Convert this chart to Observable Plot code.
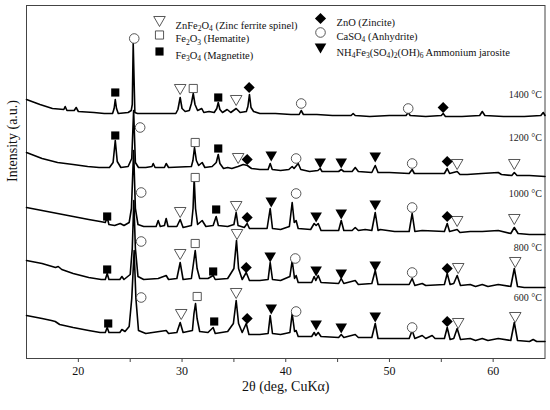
<!DOCTYPE html>
<html>
<head>
<meta charset="utf-8">
<script src="https://cdn.jsdelivr.net/npm/d3@7"></script>
<script src="https://cdn.jsdelivr.net/npm/@observablehq/plot@0.6"></script>
<style>
  html, body { margin: 0; padding: 0; background: #fff; }
  #chart { width: 550px; height: 410px; }
</style>
</head>
<body>
<div id="chart"></div>
<script>
// ---- Data: XRD traces, [2θ (deg), intensity (a.u., stacked offset)] ----
const xrd1400 = [
  [15.0,259],[16.3,254],[17.5,250],[18.6,249],[18.73,252],[18.9,248],[19.6,248],[19.79,251],[20.0,247],
  [21.5,246],[22.5,245],[23.3,245],[23.45,250],[23.56,259],[23.68,250],[23.85,245],[24.8,246],[25.1,248],
  [25.2,254],[25.29,315],[25.45,246],[25.7,245],[27.0,245],[28.0,245],[29.4,245],[29.6,249],[29.82,261],
  [30.0,250],[30.3,247],[30.7,248],[30.9,255],[31.08,265],[31.25,254],[31.5,248],[31.9,250],[32.1,246],
  [32.6,247],[33.1,246],[33.35,250],[33.49,256],[33.65,249],[33.9,246],[34.35,249],[34.7,246],[35.22,250],
  [35.6,246],[36.2,247],[36.35,252],[36.5,264],[36.65,251],[36.9,247],[37.5,245],[39.0,245],[40.5,244],
  [41.3,244],[41.49,248],[41.7,244],[43.0,244],[44.5,243],[46.3,243],[46.5,245],[46.7,243],[48.1,242],
  [50.0,243],[51.6,243],[51.81,246],[52.0,243],[53.5,242],[55.0,243],[55.18,245],[55.4,242],[57.0,242],
  [58.7,243],[58.95,247],[59.2,243],[61.0,242],[63.0,242],[64.6,243],[64.83,246],[65.0,243]
];
const xrd1200 = [
  [15.0,206],[16.5,200],[18.0,196],[19.5,194],[20.9,192],[22.0,191],[23.0,191],[23.35,196],[23.56,218],
  [23.75,197],[24.1,191],[24.8,192],[25.15,200],[25.33,248],[25.5,196],[25.8,191],[26.5,191],[27.1,192],
  [27.22,195],[27.4,191],[28.3,191],[28.47,195],[28.7,191],[30.9,192],[31.05,198],[31.2,211],[31.38,198],
  [31.6,193],[31.94,196],[32.2,191],[32.9,192],[33.3,196],[33.49,204],[33.65,195],[34.0,190],[34.4,191],
  [34.8,190],[35.4,192],[35.9,194],[36.3,193],[36.7,190],[37.5,189],[38.3,189],[38.5,195],[38.7,189],
  [39.5,188],[40.3,189],[40.62,192],[40.8,190],[41.2,195],[41.45,189],[42.3,187],[43.1,188],[43.32,190],
  [43.5,187],[45.1,187],[45.35,189],[45.6,187],[46.4,187],[46.7,191],[47.0,187],[48.3,186],[48.63,193],
  [48.9,186],[50.0,186],[51.9,185],[52.19,189],[52.4,185],[55.3,185],[55.57,190],[55.8,185],[56.53,187],
  [56.8,184],[57.5,184],[58.9,185],[60.49,186],[60.8,184],[61.8,183],[62.04,186],[62.3,183],[63.5,183],[65.0,182]
];
const xrd1000 = [
  [15.0,151],[16.5,148],[18.0,145],[19.5,142],[21.0,139],[22.1,137],[22.6,136],[22.78,141],[22.95,134],
  [23.5,133],[24.04,135],[24.4,133],[24.9,136],[25.12,150],[25.33,208],[25.5,150],[25.75,134],[26.3,132],
  [27.5,132],[27.7,138],[27.9,132],[28.3,133],[28.47,140],[28.65,132],[29.5,132],[29.82,139],[30.1,131],
  [30.9,133],[31.06,150],[31.17,180],[31.3,150],[31.5,134],[31.94,138],[32.3,132],[33.0,133],[33.29,142],
  [33.5,133],[34.4,132],[35.0,134],[35.22,146],[35.4,133],[36.0,131],[36.28,135],[36.5,130],[38.2,130],
  [38.5,150],[38.72,130],[39.5,129],[40.35,132],[40.62,156],[40.82,136],[41.0,138],[41.2,130],[42.4,129],
  [42.74,135],[42.93,133],[43.13,135],[43.4,128],[45.1,128],[45.35,138],[45.6,128],[46.4,128],[46.7,131],
  [47.0,128],[47.66,129],[48.3,128],[48.63,146],[48.9,128],[49.11,129],[50.5,127],[51.9,127],[52.19,145],
  [52.45,127],[53.16,128],[55.3,127],[55.57,135],[55.8,127],[56.53,129],[56.8,126],[57.79,127],[58.95,127],
  [60.49,128],[61.7,125],[62.04,131],[62.4,125],[63.5,124],[65.0,124]
];
const xrd800 = [
  [15.0,98],[16.5,95],[17.8,91],[18.06,92],[18.4,89],[19.5,85],[21.0,81],[22.2,79],[22.6,79],[22.78,85],
  [22.95,79],[24.0,79],[24.2,82],[24.4,79],[25.0,84],[25.2,110],[25.35,158],[25.5,110],[25.75,82],[26.3,79],
  [27.7,80],[28.47,83],[28.7,79],[29.5,80],[29.82,96],[30.1,79],[30.9,80],[31.1,95],[31.27,108],[31.45,90],
  [31.7,80],[32.5,80],[33.0,83],[33.2,79],[34.4,80],[35.0,90],[35.25,118],[35.45,90],[35.8,79],[36.19,86],
  [36.5,78],[37.5,78],[38.3,79],[38.5,96],[38.72,79],[39.5,78],[40.4,82],[40.62,98],[40.85,80],[41.0,83],
  [41.2,76],[42.5,76],[42.74,82],[42.9,78],[43.13,83],[43.4,76],[45.1,75],[45.35,80],[45.6,75],[46.7,78],
  [47.0,74],[48.3,75],[48.63,88],[48.9,74],[50.5,74],[51.9,74],[52.19,80],[52.45,73],[53.16,75],[53.5,73],
  [55.3,74],[55.57,85],[55.85,74],[56.2,75],[56.53,83],[56.85,73],[57.79,74],[58.3,72],[58.95,74],[59.5,72],
  [60.49,74],[61.7,72],[62.04,90],[62.35,72],[63.0,71],[65.0,71]
];
const xrd600 = [
  [15.0,43],[16.5,40],[17.4,38],[17.77,37],[18.2,34],[19.5,31],[21.0,28],[22.1,26],[22.6,26],[22.78,31],
  [22.95,26],[24.0,26],[24.2,29],[24.5,27],[24.9,32],[25.15,60],[25.38,108],[25.55,60],[25.8,28],[26.5,25],
  [28.47,28],[28.7,25],[29.5,26],[29.82,36],[30.1,26],[31.0,28],[31.15,45],[31.3,55],[31.45,40],[31.7,27],
  [32.5,26],[33.0,31],[33.2,25],[34.4,27],[34.95,35],[35.22,58],[35.45,35],[35.8,26],[36.19,35],[36.45,24],
  [37.5,24],[38.3,25],[38.5,43],[38.72,25],[39.5,24],[40.4,26],[40.62,45],[40.85,27],[41.0,28],[41.2,22],
  [42.5,22],[42.74,26],[42.9,23],[43.13,26],[43.4,22],[45.1,21],[45.35,24],[45.6,21],[46.7,24],[47.0,21],
  [48.3,21],[48.63,35],[48.9,20],[50.5,20],[51.9,20],[52.19,28],[52.45,20],[53.16,23],[53.5,20],[54.12,23],
  [54.4,20],[55.3,20],[55.57,31],[55.85,19],[56.2,20],[56.53,30],[56.85,19],[57.79,20],[58.3,18],[58.95,20],
  [59.5,18],[60.49,20],[61.7,18],[62.04,36],[62.35,18],[63.5,17],[63.86,19],[64.2,17],[65.0,17]
];

// ---- Phase markers: [phase, 2θ, intensity] ----
const marks1400 = [
  ["magnetite",23.56,266],["anhydrite",25.39,320],["spinel",29.82,269],["hematite",31.08,270],
  ["magnetite",33.49,261],["spinel",35.22,258],["zincite",36.47,271],["anhydrite",41.49,255],
  ["anhydrite",51.81,250],["zincite",55.18,251]
];
const marks1200 = [
  ["magnetite",23.56,223],["anhydrite",25.96,231],["hematite",31.27,216],["magnetite",33.49,210],
  ["spinel",35.41,200],["zincite",36.28,199],["jarosite",38.6,202],["anhydrite",41.0,200],
  ["jarosite",43.32,195],["jarosite",45.35,195],["jarosite",48.63,201],["anhydrite",52.19,195],
  ["zincite",55.57,197],["spinel",56.53,194],["spinel",62.04,194]
];
const marks1000 = [
  ["magnetite",22.78,142],["anhydrite",26.06,166],["spinel",29.82,146],["hematite",31.27,181],
  ["magnetite",33.29,149],["spinel",35.22,152],["zincite",36.28,141],["jarosite",38.6,156],
  ["anhydrite",41.0,165],["jarosite",42.93,141],["jarosite",45.35,144],["jarosite",48.63,153],
  ["anhydrite",52.19,151],["zincite",55.57,142],["spinel",56.53,137],["spinel",62.04,139]
];
const marks800 = [
  ["magnetite",22.78,89],["anhydrite",26.06,117],["spinel",29.82,104],["hematite",31.27,115],
  ["magnetite",33.0,87],["spinel",35.3,124],["zincite",36.19,91],["jarosite",38.5,101],
  ["anhydrite",40.92,100],["jarosite",42.93,87],["jarosite",45.35,84],["jarosite",48.63,92],
  ["anhydrite",52.19,86],["zincite",55.57,90],["spinel",56.63,90],["spinel",62.13,96]
];
const marks600 = [
  ["magnetite",22.88,35],["anhydrite",26.06,61],["spinel",29.92,44],["hematite",31.46,62],
  ["magnetite",33.1,37],["spinel",35.22,65],["zincite",36.28,40],["jarosite",38.6,49],
  ["anhydrite",41.0,47],["jarosite",42.93,33],["jarosite",45.35,30],["jarosite",48.63,41],
  ["anhydrite",52.19,31],["zincite",55.57,37],["spinel",56.63,35],["spinel",62.13,41]
];

// ---- Labels ----
const temps = ["600 °C", "800 °C", "1000 °C", "1200 °C", "1400 °C"];
const tempLabelY = [61, 111, 165, 221, 264];
const xTicks = [20, 30, 40, 50, 60];
const xMinorTicks = [25, 35, 45, 55];
const xTitle = "2θ (deg, CuKα)";
const yTitle = "Intensity (a.u.)";
const phases = ["spinel", "hematite", "magnetite", "zincite", "anhydrite", "jarosite"];
const phaseLabels = [
  "ZnFe_2O_4 (Zinc ferrite spinel)",
  "Fe_2O_3 (Hematite)",
  "Fe_3O_4 (Magnetite)",
  "ZnO (Zincite)",
  "CaSO_4 (Anhydrite)",
  "NH_4Fe_3(SO_4)_2(OH)_6 Ammonium jarosite"
];

// ---- Build tables ----
const traceList = [xrd600, xrd800, xrd1000, xrd1200, xrd1400];
const lineRows = traceList.flatMap((pts, i) => pts.map(([x, y]) => ({t: temps[i], x, y})));
const markList = [marks600, marks800, marks1000, marks1200, marks1400];
const markRows = markList.flatMap((m, i) => m.map(([p, x, y]) => ({t: temps[i], p, x, y})));
const labelRows = temps.map((t, i) => ({t, y: tempLabelY[i]}));

// ---- Styles ----
const triDown = {
  draw(ctx, size) {
    const s = Math.sqrt(size * 4 / Math.sqrt(3));
    const h = s * Math.sqrt(3) / 2;
    ctx.moveTo(-s / 2, -h / 2);
    ctx.lineTo(s / 2, -h / 2);
    ctx.lineTo(0, h / 2);
    ctx.closePath();
  }
};
const hollow = "#444";
const style = {
  spinel:    {symbol: triDown, r: 4.3, fill: "white", stroke: hollow, strokeWidth: 0.9},
  hematite:  {symbol: "square", r: 4.6, fill: "white", stroke: hollow, strokeWidth: 0.9},
  magnetite: {symbol: "square", r: 4.6, fill: "black", stroke: "none"},
  zincite:   {symbol: "diamond2", r: 5.0, fill: "black", stroke: "none"},
  anhydrite: {symbol: "circle", r: 4.8, fill: "white", stroke: hollow, strokeWidth: 0.9},
  jarosite:  {symbol: triDown, r: 4.3, fill: "black", stroke: "none"}
};
// legend layout offsets from the frame's top-left corner
const legendPos = [[133, 16], [133, 29.5], [133, 46], [294, 13], [294, 27], [294, 43]];
const legendTextDx = 16;

const font = "'Liberation Serif', 'DejaVu Serif', serif";

const marks = [
  Plot.frame({stroke: "#444", strokeWidth: 1}),
  Plot.axisX({ticks: xTicks, tickSize: 4, tickPadding: 4, fontSize: 12, label: null, stroke: "#444"}),
  Plot.axisX({ticks: xMinorTicks, tickSize: 4, tickFormat: () => "", label: null, stroke: "#444"}),
  Plot.line(lineRows, {x: "x", y: "y", z: "t", stroke: "black", strokeWidth: 1.6, strokeLinejoin: "round"}),
  ...phases.map(p => Plot.dot(markRows.filter(d => d.p === p), {x: "x", y: "y", ...style[p]})),
  Plot.text(labelRows, {y: "y", text: "t", frameAnchor: "right", textAnchor: "end", dx: -3, fontSize: 10, fill: "#222"}),
  ...phases.map((p, i) => Plot.dot([0], {frameAnchor: "top-left", dx: legendPos[i][0], dy: legendPos[i][1], ...style[p]})),
  ...phases.map((p, i) => Plot.text([phaseLabels[i]], {frameAnchor: "top-left", dx: legendPos[i][0] + legendTextDx, dy: legendPos[i][1], textAnchor: "start", fontSize: 10.5, fill: "#111"})),
  Plot.text([xTitle], {frameAnchor: "bottom", dy: 32, fontSize: 14, fill: "#111"}),
  Plot.text([yTitle], {frameAnchor: "left", dx: -14, rotate: -90, fontSize: 14, fill: "#111"})
];

const chart = Plot.plot({
  width: 550,
  height: 410,
  marginLeft: 26,
  marginRight: 5.5,
  marginTop: 5,
  marginBottom: 52,
  style: {fontFamily: font, fontSize: "12px", color: "#111", background: "white"},
  x: {domain: [15, 65], label: null},
  y: {domain: [0, 353], axis: null},
  marks
});

// subscripts: "_n" -> subscript tspans
const svgns = "http://www.w3.org/2000/svg";
d3.select(chart).selectAll("text").each(function () {
  const s = this.textContent;
  if (!s.includes("_")) return;
  const parts = s.split(/(_\d+)/).filter(Boolean);
  while (this.firstChild) this.removeChild(this.firstChild);
  let shifted = false;
  for (const part of parts) {
    const t = document.createElementNS(svgns, "tspan");
    if (part.startsWith("_")) {
      t.textContent = part.slice(1);
      t.setAttribute("font-size", "7.5");
      if (!shifted) { t.setAttribute("dy", "2.5"); shifted = true; }
    } else {
      t.textContent = part;
      if (shifted) { t.setAttribute("dy", "-2.5"); shifted = false; }
    }
    this.appendChild(t);
  }
});

document.getElementById("chart").appendChild(chart);
</script>
</body>
</html>
